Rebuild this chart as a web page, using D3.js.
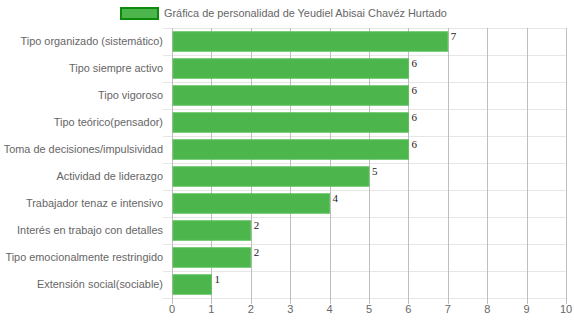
<!DOCTYPE html>
<html><head><meta charset="utf-8">
<script src="https://cdn.jsdelivr.net/npm/d3@7"></script>
<style>body{margin:0;background:#fff}svg{display:block}</style>
</head><body>
<svg id="c" width="574" height="323"></svg>
<script>
const categories = [
  "Tipo organizado (sistemático)",
  "Tipo siempre activo",
  "Tipo vigoroso",
  "Tipo teórico(pensador)",
  "Toma de decisiones/impulsividad",
  "Actividad de liderazgo",
  "Trabajador tenaz e intensivo",
  "Interés en trabajo con detalles",
  "Tipo emocionalmente restringido",
  "Extensión social(sociable)"
];
const values = [7, 6, 6, 6, 6, 5, 4, 2, 2, 1];
const seriesName = "Gráfica de personalidad de Yeudiel Abisai Chavéz Hurtado";
const xTicks = [0,1,2,3,4,5,6,7,8,9,10];

(function () {
const svg = d3.select("#c");
const pLeft = 172, pRight = 566, pTop = 28, pBottom = 298;
const x = d3.scaleLinear().domain([0, 10]).range([pLeft, pRight]);
const y = d3.scaleBand().domain(categories).range([pTop, pBottom]).paddingInner(0).paddingOuter(0);
const barH = y.bandwidth() * 0.72;
const sans = "Liberation Sans, Arial, sans-serif";

const hLines = d3.range(categories.length + 1).map(i => pTop + i * y.bandwidth());
svg.append("g").selectAll("line").data(hLines).join("line")
  .attr("x1", pLeft - 9).attr("x2", pRight)
  .attr("y1", d => Math.round(d) + 0.5).attr("y2", d => Math.round(d) + 0.5)
  .attr("stroke", "#e6e6e6").attr("stroke-width", 1);

svg.append("g").selectAll("line").data(xTicks).join("line")
  .attr("x1", d => Math.round(x(d)) + 0.5).attr("x2", d => Math.round(x(d)) + 0.5)
  .attr("y1", pTop).attr("y2", pBottom + 6)
  .attr("stroke", "#bfbfbf").attr("stroke-width", 1);

svg.append("g").selectAll("rect").data(values).join("rect")
  .attr("x", x(0) + 1)
  .attr("y", (d, i) => y(categories[i]) + (y.bandwidth() - barH) / 2)
  .attr("width", d => x(d) - x(0) - 1)
  .attr("height", barH)
  .attr("fill", "#4cb54c")
  .attr("stroke", "#5cc05c").attr("stroke-width", 1);

svg.append("g").selectAll("text").data(values).join("text")
  .attr("x", d => x(d) + 3)
  .attr("y", (d, i) => y(categories[i]) + (y.bandwidth() - barH) / 2 + 8)
  .attr("font-family", "Liberation Serif, Times New Roman, serif")
  .attr("font-size", 11).attr("fill", "#222")
  .text(d => d);

svg.append("g").selectAll("text").data(categories).join("text")
  .attr("x", pLeft - 9)
  .attr("y", d => y(d) + y.bandwidth() / 2)
  .attr("dy", "0.35em").attr("text-anchor", "end")
  .attr("font-family", sans)
  .attr("font-size", 10.9).attr("fill", "#666")
  .text(d => d);

svg.append("g").selectAll("text").data(xTicks).join("text")
  .attr("x", d => x(d))
  .attr("y", pBottom + 15)
  .attr("text-anchor", "middle")
  .attr("font-family", sans)
  .attr("font-size", 11).attr("fill", "#666")
  .text(d => d);

svg.append("rect").attr("x", 121).attr("y", 8).attr("width", 37).attr("height", 11)
  .attr("fill", "#4cb54c").attr("stroke", "#0b8a0b").attr("stroke-width", 2);
svg.append("text").attr("x", 164).attr("y", 13.5).attr("dy", "0.35em")
  .attr("font-family", sans)
  .attr("font-size", 10.9).attr("fill", "#666")
  .text(seriesName);
})();
</script>
</body></html>
